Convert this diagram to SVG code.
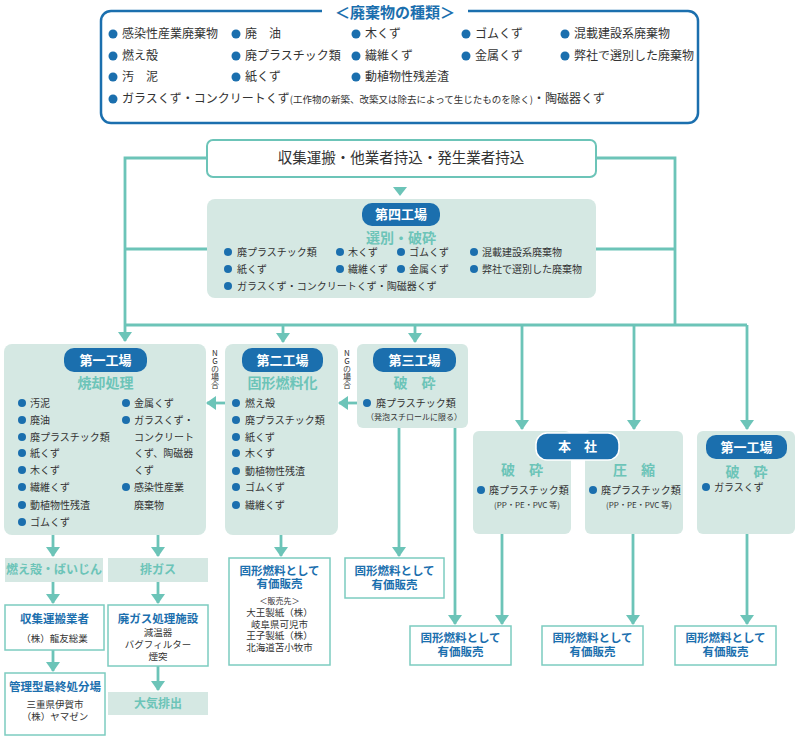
<svg xmlns="http://www.w3.org/2000/svg" width="800" height="739" viewBox="0 0 800 739">
<defs>
<style>
text{font-family:"Noto Sans CJK JP","Noto Sans",sans-serif;fill:#333}
.it{font-size:12px}
.sm{font-size:10px}
.s9{font-size:9.5px}
.xs{font-size:8px}
.pill{fill:#1b6fae}
.pt{font-size:13px;font-weight:bold;fill:#fff;text-anchor:middle}
.st{font-size:14px;font-weight:bold;fill:#6cc4b8;text-anchor:middle}
.box{fill:#d5e8e3}
.wb{fill:#fff;stroke:#7cccc0;stroke-width:1.5}
.bt{font-size:11.5px;font-weight:bold;fill:#1b6fae;text-anchor:middle}
.band{fill:#d5e8e3}
.bd{font-size:12px;font-weight:bold;fill:#6cc4b8;text-anchor:middle}
.c{text-anchor:middle}
.b{fill:#1b6fae}
.ln{fill:none;stroke:#6cc4b8;stroke-width:2.8}
.ng{font-size:8px;writing-mode:vertical-rl;text-orientation:upright;fill:#333}
</style>
<marker id="ah" markerUnits="userSpaceOnUse" markerWidth="12" markerHeight="14" refX="9" refY="7" orient="auto">
<path d="M0,0 L10,7 L0,14 z" fill="#6cc4b8"/>
</marker>
</defs>

<g id="types">
<rect x="101" y="11" width="597" height="112" rx="10" fill="#fff" stroke="#1b6fae" stroke-width="2.5"/>
<rect x="322" y="2" width="146" height="20" fill="#fff"/>
<text x="395" y="18" text-anchor="middle" font-size="15" font-weight="bold" style="fill:#1b6fae">＜廃棄物の種類＞</text>
<g class="b">
<circle cx="113" cy="34" r="4.5"/><circle cx="236" cy="34" r="4.5"/><circle cx="356" cy="34" r="4.5"/><circle cx="466" cy="34" r="4.5"/><circle cx="565" cy="34" r="4.5"/>
<circle cx="113" cy="56" r="4.5"/><circle cx="236" cy="56" r="4.5"/><circle cx="356" cy="56" r="4.5"/><circle cx="466" cy="56" r="4.5"/><circle cx="565" cy="56" r="4.5"/>
<circle cx="113" cy="77" r="4.5"/><circle cx="236" cy="77" r="4.5"/><circle cx="356" cy="77" r="4.5"/>
<circle cx="113" cy="99" r="4.5"/>
</g>
<text class="it" x="122" y="38">感染性産業廃棄物</text>
<text class="it" x="245" y="38">廃　油</text>
<text class="it" x="365" y="38">木くず</text>
<text class="it" x="475" y="38">ゴムくず</text>
<text class="it" x="574" y="38">混載建設系廃棄物</text>
<text class="it" x="122" y="60">燃え殻</text>
<text class="it" x="245" y="60">廃プラスチック類</text>
<text class="it" x="365" y="60">繊維くず</text>
<text class="it" x="475" y="60">金属くず</text>
<text class="it" x="574" y="60">弊社で選別した廃棄物</text>
<text class="it" x="122" y="81">汚　泥</text>
<text class="it" x="245" y="81">紙くず</text>
<text class="it" x="365" y="81">動植物性残差渣</text>
<text class="it" x="122" y="103">ガラスくず・コンクリートくず<tspan font-size="9.5">(工作物の新築、改築又は除去によって生じたものを除く)</tspan>・陶磁器くず</text>
</g>

<g id="connectors">
<path class="ln" d="M207,158 H125 V341" marker-end="url(#ah)"/>
<path class="ln" d="M596,158 H675 V325"/>
<path class="ln" d="M207,249 H125 M596,249 H675"/>
<path class="ln" d="M125,325 H747"/>
<path class="ln" d="M283,325 V342" marker-end="url(#ah)"/>
<path class="ln" d="M415,325 V342" marker-end="url(#ah)"/>
<path class="ln" d="M522,325 V429" marker-end="url(#ah)"/>
<path class="ln" d="M634,325 V429" marker-end="url(#ah)"/>
<path class="ln" d="M747,325 V429" marker-end="url(#ah)"/>
<polygon points="393,187 407,187 400,196" fill="#6cc4b8"/>
<path class="ln" d="M357,403 H339" marker-end="url(#ah)"/>
<path class="ln" d="M225,403 H207" marker-end="url(#ah)"/>
<path class="ln" d="M53,535 V556" marker-end="url(#ah)"/>
<path class="ln" d="M158,535 V556" marker-end="url(#ah)"/>
<path class="ln" d="M53,582 V603" marker-end="url(#ah)"/>
<path class="ln" d="M158,582 V603" marker-end="url(#ah)"/>
<path class="ln" d="M53,650 V671" marker-end="url(#ah)"/>
<path class="ln" d="M158,666 V690" marker-end="url(#ah)"/>
<path class="ln" d="M281,535 V556" marker-end="url(#ah)"/>
<path class="ln" d="M399,428 V556" marker-end="url(#ah)"/>
<path class="ln" d="M455,428 V624" marker-end="url(#ah)"/>
<path class="ln" d="M502,534 V624" marker-end="url(#ah)"/>
<path class="ln" d="M633,534 V624" marker-end="url(#ah)"/>
<path class="ln" d="M747,534 V624" marker-end="url(#ah)"/>
<text class="ng" x="215" y="349">NGの場合</text>
<text class="ng" x="347" y="349">NGの場合</text>
</g>

<g id="collect">
<rect x="207" y="140" width="389" height="37" rx="6" fill="#fff" stroke="#6cc4b8" stroke-width="2"/>
<text x="401" y="163" class="c" font-size="14.5">収集運搬・他業者持込・発生業者持込</text>
</g>

<g id="plant4">
<rect class="box" x="207" y="199" width="389" height="99" rx="8"/>
<rect class="pill" x="362" y="203" width="78" height="23" rx="10"/>
<text class="pt" x="401" y="219">第四工場</text>
<text class="st" x="401" y="243">選別・破砕</text>
<g class="b">
<circle cx="228" cy="252" r="4"/><circle cx="340" cy="252" r="4"/><circle cx="401" cy="252" r="4"/><circle cx="474" cy="252" r="4"/>
<circle cx="228" cy="269" r="4"/><circle cx="340" cy="269" r="4"/><circle cx="401" cy="269" r="4"/><circle cx="474" cy="269" r="4"/>
<circle cx="228" cy="286" r="4"/>
</g>
<text class="sm" x="237" y="256">廃プラスチック類</text>
<text class="sm" x="348" y="256">木くず</text>
<text class="sm" x="409" y="256">ゴムくず</text>
<text class="sm" x="482" y="256">混載建設系廃棄物</text>
<text class="sm" x="237" y="273">紙くず</text>
<text class="sm" x="348" y="273">繊維くず</text>
<text class="sm" x="409" y="273">金属くず</text>
<text class="sm" x="482" y="273">弊社で選別した廃棄物</text>
<text class="sm" x="237" y="290">ガラスくず・コンクリートくず・陶磁器くず</text>
</g>

<g id="plant1">
<rect class="box" x="4" y="344" width="202" height="191" rx="8"/>
<rect class="pill" x="64" y="348" width="83" height="24" rx="10"/>
<text class="pt" x="105.5" y="365">第一工場</text>
<text class="st" x="105.5" y="388">焼却処理</text>
<g class="b">
<circle cx="22" cy="403" r="4"/><circle cx="22" cy="420" r="4"/><circle cx="22" cy="437" r="4"/><circle cx="22" cy="453" r="4"/><circle cx="22" cy="470" r="4"/><circle cx="22" cy="487" r="4"/><circle cx="22" cy="505" r="4"/><circle cx="22" cy="522" r="4"/>
<circle cx="126" cy="403" r="4"/><circle cx="126" cy="420" r="4"/><circle cx="126" cy="487" r="4"/>
</g>
<text class="sm" x="30" y="407">汚泥</text>
<text class="sm" x="30" y="424">廃油</text>
<text class="sm" x="30" y="441">廃プラスチック類</text>
<text class="sm" x="30" y="457">紙くず</text>
<text class="sm" x="30" y="474">木くず</text>
<text class="sm" x="30" y="491">繊維くず</text>
<text class="sm" x="30" y="509">動植物性残渣</text>
<text class="sm" x="30" y="526">ゴムくず</text>
<text class="sm" x="134" y="407">金属くず</text>
<text class="sm" x="134" y="424">ガラスくず・<tspan x="134" y="441">コンクリート</tspan><tspan x="134" y="457">くず、陶磁器</tspan><tspan x="134" y="474">くず</tspan></text>
<text class="sm" x="134" y="491">感染性産業<tspan x="134" y="509">廃棄物</tspan></text>
</g>

<g id="plant2">
<rect class="box" x="225" y="344" width="113" height="191" rx="8"/>
<rect class="pill" x="242" y="348" width="81" height="24" rx="10"/>
<text class="pt" x="282.5" y="365">第二工場</text>
<text class="st" x="282.5" y="388">固形燃料化</text>
<g class="b">
<circle cx="236" cy="403" r="4"/><circle cx="236" cy="420" r="4"/><circle cx="236" cy="437" r="4"/><circle cx="236" cy="453" r="4"/><circle cx="236" cy="471" r="4"/><circle cx="236" cy="487" r="4"/><circle cx="236" cy="505" r="4"/>
</g>
<text class="sm" x="245" y="407">燃え殻</text>
<text class="sm" x="245" y="424">廃プラスチック類</text>
<text class="sm" x="245" y="441">紙くず</text>
<text class="sm" x="245" y="457">木くず</text>
<text class="sm" x="245" y="475">動植物性残渣</text>
<text class="sm" x="245" y="491">ゴムくず</text>
<text class="sm" x="245" y="509">繊維くず</text>
</g>

<g id="plant3">
<rect class="box" x="357" y="344" width="111" height="84" rx="6"/>
<rect class="pill" x="373" y="348" width="83" height="24" rx="10"/>
<text class="pt" x="414.5" y="365">第三工場</text>
<text class="st" x="414.5" y="388">破　砕</text>
<circle class="b" cx="367" cy="403" r="4"/>
<text class="sm" x="376" y="407">廃プラスチック類</text>
<text class="xs c" x="414" y="420">（発泡スチロールに限る）</text>
</g>

<g id="honsha">
<rect class="box" x="473" y="431" width="98" height="103" rx="6"/>
<rect class="box" x="585" y="431" width="98" height="103" rx="6"/>
<rect class="pill" x="536" y="433" width="83" height="27" rx="11" stroke="#fff" stroke-width="1.5"/>
<text class="pt" x="577.5" y="451">本　社</text>
<text class="st" x="522" y="475">破　砕</text>
<text class="st" x="634" y="475">圧　縮</text>
<circle class="b" cx="481" cy="490" r="4"/>
<circle class="b" cx="593" cy="490" r="4"/>
<text class="sm" x="489" y="494">廃プラスチック類</text>
<text class="sm" x="601" y="494">廃プラスチック類</text>
<text class="xs c" x="527" y="508">(PP・PE・PVC 等)</text>
<text class="xs c" x="639" y="508">(PP・PE・PVC 等)</text>
</g>

<g id="plant1b">
<rect class="box" x="697" y="431" width="98" height="103" rx="6"/>
<rect class="pill" x="706" y="435" width="81" height="24" rx="10"/>
<text class="pt" x="746.5" y="452">第一工場</text>
<text class="st" x="746.5" y="477">破　砕</text>
<circle class="b" cx="706" cy="487" r="4"/>
<text class="sm" x="714" y="491">ガラスくず</text>
</g>

<g id="ash">
<rect class="band" x="5" y="558" width="98" height="24"/>
<text class="bd" x="54" y="574">燃え殻・ばいじん</text>
</g>
<g id="gas">
<rect class="band" x="108" y="558" width="100" height="24"/>
<text class="bd" x="158" y="574">排ガス</text>
</g>
<g id="transport">
<rect class="wb" x="5" y="605" width="99" height="45"/>
<text class="bt" x="54.5" y="623">収集運搬業者</text>
<text class="s9 c" x="54.5" y="642">（株）龍友総業</text>
</g>
<g id="landfill">
<rect class="wb" x="5" y="673" width="100" height="62"/>
<text class="bt" x="55" y="691">管理型最終処分場</text>
<text class="s9 c" x="55" y="708">三重県伊賀市<tspan x="55" y="720">（株）ヤマゼン</tspan></text>
</g>
<g id="gasplant">
<rect class="wb" x="108" y="605" width="100" height="61"/>
<text class="bt" x="158" y="623">廃ガス処理施設</text>
<text class="s9 c" x="158" y="636">減温器<tspan x="158" y="648">バグフィルター</tspan><tspan x="158" y="660">煙突</tspan></text>
</g>
<g id="air">
<rect class="band" x="108" y="692" width="100" height="23"/>
<text class="bd" x="158" y="708">大気排出</text>
</g>

<g id="sale2">
<rect class="wb" x="229" y="558" width="101" height="107"/>
<text class="bt" x="279.5" y="575">固形燃料として<tspan x="279.5" y="588">有価販売</tspan></text>
<text class="xs c" x="279.5" y="604">＜販売先＞</text>
<text class="s9 c" x="279.5" y="616">大王製紙（株）<tspan x="279.5" y="627.5">岐阜県可児市</tspan><tspan x="279.5" y="639">王子製紙（株）</tspan><tspan x="279.5" y="650.5">北海道苫小牧市</tspan></text>
</g>
<g id="sale3">
<rect class="wb" x="345" y="558" width="99" height="40"/>
<text class="bt" x="394.5" y="575">固形燃料として<tspan x="394.5" y="589">有価販売</tspan></text>
</g>
<g id="saleA">
<rect class="wb" x="410" y="626" width="101" height="39"/>
<text class="bt" x="460.5" y="642">固形燃料として<tspan x="460.5" y="656">有価販売</tspan></text>
</g>
<g id="saleB">
<rect class="wb" x="542" y="626" width="101" height="39"/>
<text class="bt" x="592.5" y="642">固形燃料として<tspan x="592.5" y="656">有価販売</tspan></text>
</g>
<g id="saleC">
<rect class="wb" x="675" y="626" width="101" height="39"/>
<text class="bt" x="725.5" y="642">固形燃料として<tspan x="725.5" y="656">有価販売</tspan></text>
</g>
</svg>
